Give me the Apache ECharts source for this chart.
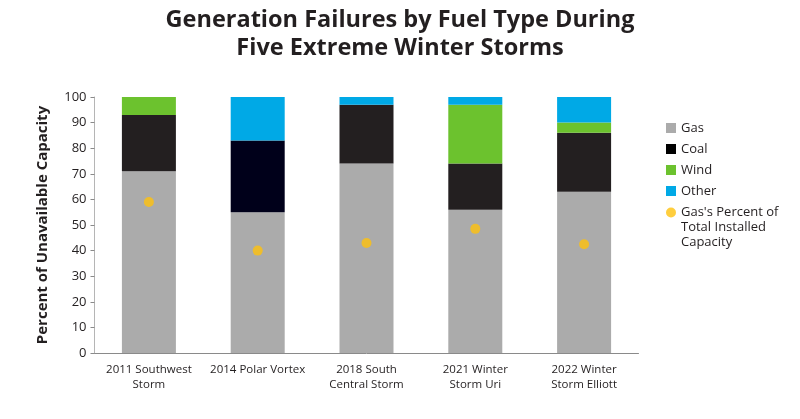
<!DOCTYPE html>
<html>
<head>
<meta charset="utf-8">
<script src="https://cdn.jsdelivr.net/npm/echarts@6/dist/echarts.min.js"></script>
<style>html,body{margin:0;padding:0;background:#fff;}#c{width:800px;height:419px;}</style>
</head>
<body>
<div id="c"></div>
<script>
const categories = ['2011 Southwest\nStorm', '2014 Polar Vortex', '2018 South\nCentral Storm', '2021 Winter\nStorm Uri', '2022 Winter\nStorm Elliott'];
const gas = [71, 55, 74, 56, 63];
const coal = [22, 28, 23, 18, 23];
const wind = [7, 0, 0, 23, 4];
const other = [0, 17, 3, 3, 10];
const gasShareOfCapacity = [59, 40, 43, 48.5, 42.5];
const yTicks = [0, 10, 20, 30, 40, 50, 60, 70, 80, 90, 100];

const FONT = 'Open Sans';
const DOT_NAME = "Gas's Percent of\nTotal Installed\nCapacity";
const chart = echarts.init(document.getElementById('c'), null, {renderer: 'canvas'});
const coalData = coal.map((v, i) => i === 1 ? {value: v, itemStyle: {color: '#00001a'}} : v);

chart.setOption({
  animation: false,
  textStyle: {fontFamily: FONT},
  title: {
    text: 'Generation Failures by Fuel Type During\nFive Extreme Winter Storms',
    left: 'center', top: 1,
    textStyle: {fontFamily: FONT, fontWeight: 'bold', fontSize: 23.5, lineHeight: 28, color: '#231f20'}
  },
  grid: {left: 94.5, right: 161.5, top: 97, bottom: 66},
  legend: [{
    orient: 'vertical', left: 661, top: 115,
    itemWidth: 10, itemHeight: 10, itemGap: 5,
    textStyle: {fontFamily: FONT, fontSize: 13, color: '#231f20', lineHeight: 16},
    data: [
      {name: 'Gas', icon: 'rect'},
      {name: 'Coal', icon: 'rect', itemStyle: {color: '#000000'}},
      {name: 'Wind', icon: 'rect'},
      {name: 'Other', icon: 'rect'}
    ]
  }, {
    orient: 'vertical', left: 661, top: 170,
    itemWidth: 10, itemHeight: 10,
    formatter: n => '\n\n' + n,
    textStyle: {fontFamily: FONT, fontSize: 13, color: '#231f20', lineHeight: 15},
    data: [{name: DOT_NAME, icon: 'circle'}]
  }],
  xAxis: {
    type: 'category', data: categories,
    axisLine: {lineStyle: {color: '#8a8a8a'}},
    axisTick: {show: false},
    axisLabel: {fontFamily: FONT, fontSize: 11.5, fontWeight: 500, color: '#231f20', lineHeight: 15, margin: 9, interval: 0}
  },
  yAxis: {
    type: 'value', min: 0, max: 100, interval: 10,
    name: 'Percent of Unavailable Capacity', nameLocation: 'middle', nameGap: 44,
    nameTextStyle: {fontFamily: FONT, fontSize: 15, fontWeight: 'bold', color: '#231f20'},
    axisLine: {show: true, lineStyle: {color: '#b5b5b5'}},
    axisTick: {show: true, length: 4, lineStyle: {color: '#8a8a8a'}},
    axisLabel: {fontFamily: FONT, fontSize: 13, color: '#231f20', margin: 8,
      formatter: v => yTicks.includes(v) ? String(v) : ''},
    splitLine: {show: false}
  },
  series: [
    {name: 'Gas', type: 'bar', stack: 's', barWidth: 54, data: gas, itemStyle: {color: '#ababab'}},
    {name: 'Coal', type: 'bar', stack: 's', data: coalData, itemStyle: {color: '#231f20'}},
    {name: 'Wind', type: 'bar', stack: 's', data: wind, itemStyle: {color: '#6cc22e'}},
    {name: 'Other', type: 'bar', stack: 's', data: other, itemStyle: {color: '#00a9e6'}},
    {name: DOT_NAME, type: 'scatter', data: gasShareOfCapacity,
      symbolSize: 10, itemStyle: {color: '#ffc20e'}, z: 5}
  ]
});
</script>
</body>
</html>
